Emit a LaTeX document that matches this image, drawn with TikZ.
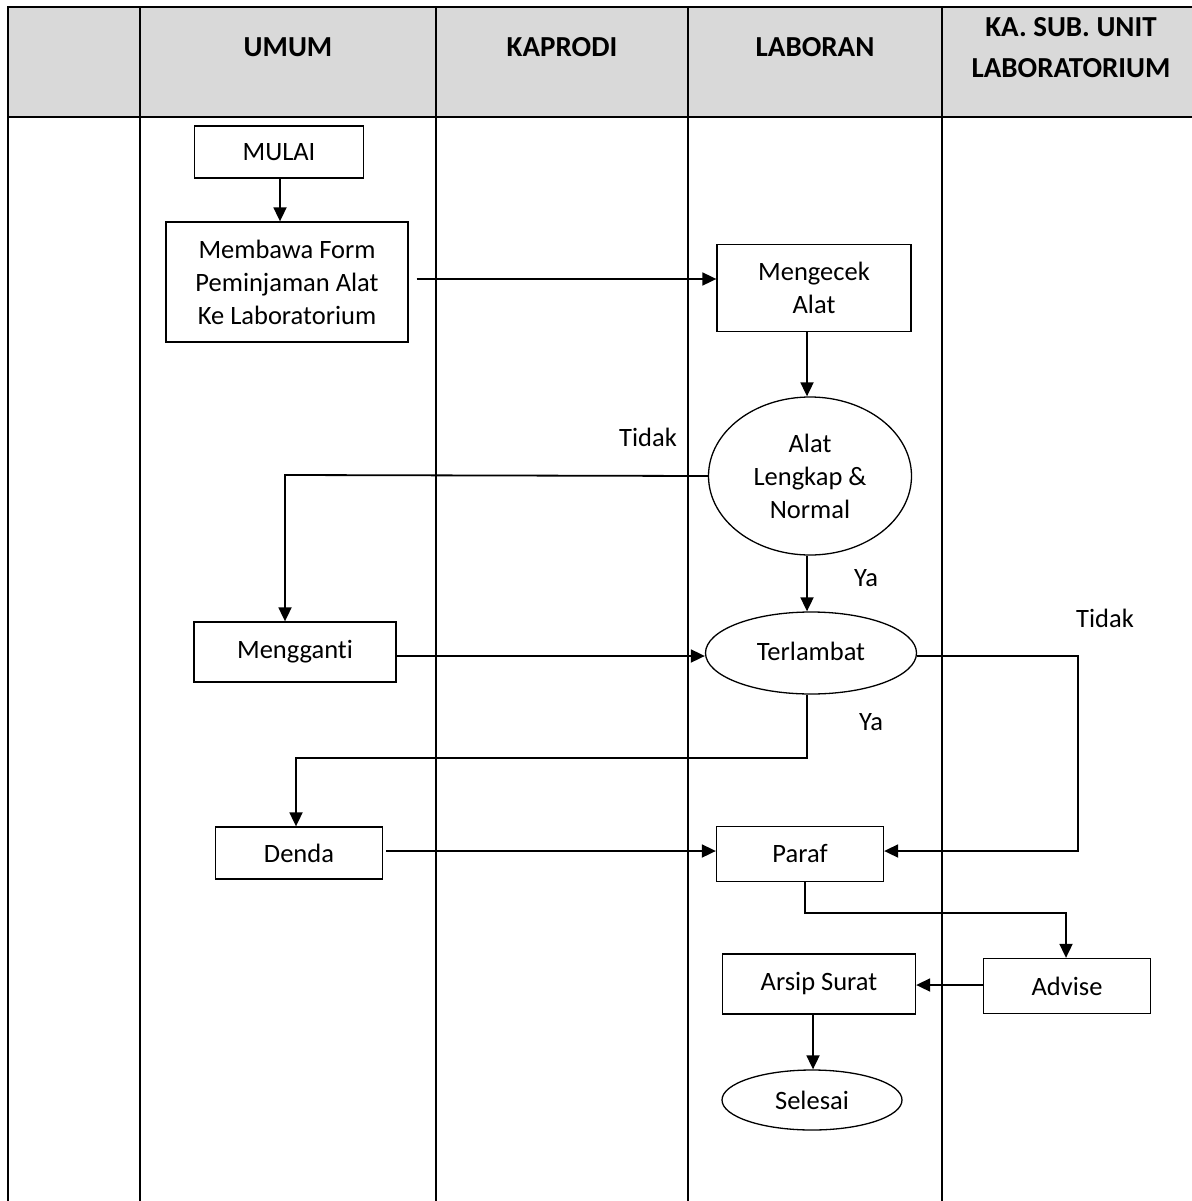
\documentclass[tikz,border=0pt]{standalone}
\usepackage{fontspec}
\setmainfont[Ligatures=NoCommon]{Carlito}
\usetikzlibrary{arrows.meta,shapes.geometric}
\definecolor{hdr}{HTML}{D9D9D9}
\begin{document}
\begin{tikzpicture}[x=1pt,y=-1pt,
  font=\fontsize{26.5}{33}\selectfont,
  box/.style={draw, line width=1.3pt, inner sep=0pt, align=center, fill=white},
  oval/.style={draw, ellipse, line width=1.3pt, inner sep=0pt, align=center, fill=white},
  arr/.style={line width=1.8pt, -{Triangle[length=14pt,width=13pt]}},
  hd/.style={font=\fontsize{29}{41}\selectfont\bfseries, align=center},
  lbl/.style={inner sep=0pt}]
\useasboundingbox (0,0) rectangle (1191,1201);
% table
\fill[hdr] (8,7) rectangle (1205,117);
\draw[line width=2pt] (8,1205) -- (8,7) -- (1205,7);
\draw[line width=2pt] (8,117) -- (1205,117);
\foreach \x in {140,436,688,942} \draw[line width=2pt] (\x,7) -- (\x,1205);
\node[hd] (h1) at (288,47) {UMUM};
\node[hd] (h2) at (562,47) {KAPRODI};
\node[hd] (h3) at (815,47) {LABORAN};
\node[hd] (h4) at (1071,48) {KA. SUB. UNIT\\LABORATORIUM};
% nodes
\node[box, minimum width=169pt, minimum height=52pt] (mulai) at (279,152) {MULAI};
\node[box, minimum width=242pt, minimum height=120pt] (bawa) at (287,282) {Membawa Form\\Peminjaman Alat\\Ke Laboratorium};
\node[box, minimum width=194pt, minimum height=87pt] (cek) at (814,288) {Mengecek\\Alat};
\node[oval, minimum width=203pt, minimum height=158pt] (alat) at (810,476) {Alat\\Lengkap \&\\Normal};
\node[oval, minimum width=211pt, minimum height=82pt] (telat) at (811,653) {\raisebox{4pt}{Terlambat}};
\node[box, minimum width=202pt, minimum height=60pt] (ganti) at (295,652) {Mengganti};
\node[box, minimum width=167pt, minimum height=52pt] (denda) at (299,853) {Denda};
\node[box, minimum width=167pt, minimum height=55pt] (paraf) at (800,854) {Paraf};
\node[box, minimum width=167pt, minimum height=55pt] (advise) at (1067,986) {Advise};
\node[box, minimum width=193pt, minimum height=60pt] (arsip) at (819,984) {Arsip Surat};
\node[oval, minimum width=180pt, minimum height=60pt] (selesai) at (812,1100) {Selesai};
% labels
\node[lbl] (t1) at (648,437) {Tidak};
\node[lbl] (y1) at (866,578) {Ya};
\node[lbl] (y2) at (871,722) {Ya};
\node[lbl] (t2) at (1105,618) {Tidak};
% coordinates
\coordinate (k0) at (280,0);
\coordinate (k1) at (285,475);
\coordinate (k2) at (807,758);
\coordinate (k3) at (296,758);
\coordinate (k4) at (1078,656);
\coordinate (k5) at (1078,851);
\coordinate (k6) at (805,913);
\coordinate (k7) at (1066,913);
% connectors
\draw[arr] (mulai.south -| k0) -- (bawa.north -| k0);
\draw[arr, shorten <=8pt] (bawa.east |- 0,279) -- (cek.west |- 0,279);
\draw[arr] (cek.south -| 807,0) -- (alat.north -| 807,0);
\draw[arr] (alat.west) -- (k1) -- (k1 |- ganti.north);
\draw[arr] (alat.south -| 807,0) -- (telat.north -| 807,0);
\draw[arr] (ganti.east |- 0,656) -- (telat.west |- 0,656);
\draw[arr] (telat.south -| k2) -- (k2) -- (k3) -- (k3 |- denda.north);
\draw[arr] (telat.east |- k4) -- (k4) -- (k5) -- (paraf.east |- k5);
\draw[arr, shorten <=3pt] (denda.east |- 0,851) -- (paraf.west |- 0,851);
\draw[arr] (paraf.south -| k6) -- (k6) -- (k7) -- (k7 |- advise.north);
\draw[arr] (advise.west |- 0,985) -- (arsip.east |- 0,985);
\draw[arr] (arsip.south -| 813,0) -- (selesai.north -| 813,0);
\end{tikzpicture}
\end{document}
